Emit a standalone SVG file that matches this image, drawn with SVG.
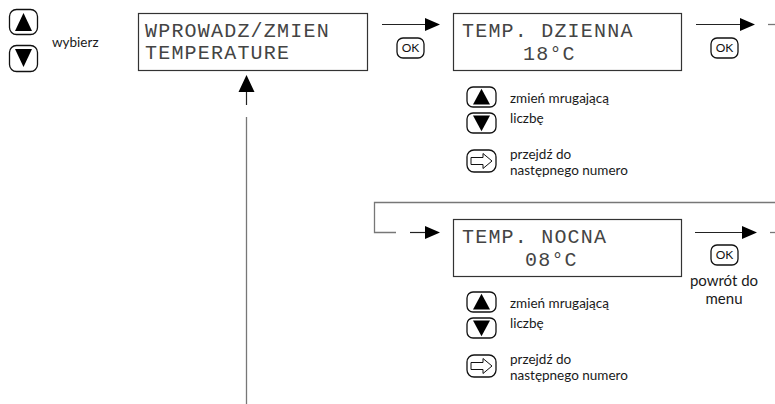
<svg xmlns="http://www.w3.org/2000/svg" xmlns:xlink="http://www.w3.org/1999/xlink" width="775" height="404" viewBox="0 0 775 404">
<style>
.box{fill:#fff;stroke:#333;stroke-width:1.2}
.lcd{font-family:"Liberation Mono","Courier New",monospace;font-size:20px;letter-spacing:1.2px;fill:#444}
.lbl{font-family:Lato,"Open Sans",sans-serif;font-size:13.5px;fill:#1a1a1a}
.btn{fill:#fff;stroke:#111;stroke-width:1.3}
.ok{font-family:Lato,"Open Sans",sans-serif;font-size:12px;fill:#111;text-anchor:middle}
.ln{stroke:#222;stroke-width:1.2;fill:none}
.gl{stroke:#777;stroke-width:1.3;fill:none}
.hd{fill:#000}
</style>
<defs>
<g id="bUp"><rect class="btn" x="0" y="0" width="29" height="20" rx="6"/><polygon points="14.5,1.8 23,17.5 6,17.5" fill="#000"/></g>
<g id="bDown"><rect class="btn" x="0" y="0" width="29" height="20" rx="6"/><polygon points="6,2.5 23,2.5 14.5,18.2" fill="#000"/></g>
<g id="bRight"><rect class="btn" x="0" y="0" width="29" height="22" rx="7"/><path d="M4,7.5H16V3.5L25,11L16,18.5V14.5H4Z" fill="#fff" stroke="#111" stroke-width="1"/></g>
<g id="bOk"><rect class="btn" x="0" y="0" width="27" height="20" rx="6"/><text class="ok" x="13.5" y="14.3">OK</text></g>
</defs>

<g id="connectors">
<line class="ln" x1="382" y1="24.5" x2="426" y2="24.5"/><polygon class="hd" points="425,18 440,24.5 425,31"/>
<line class="ln" x1="696" y1="24.5" x2="741" y2="24.5"/><polygon class="hd" points="740,18 755,24.5 740,31"/>
<line class="gl" x1="768" y1="24.5" x2="775" y2="24.5"/>
<polyline class="gl" points="775,202.5 374.5,202.5 374.5,232.5 396,232.5"/>
<line class="ln" x1="410" y1="232.5" x2="426" y2="232.5"/><polygon class="hd" points="425,226 440,232.5 425,239"/>
<line class="ln" x1="695" y1="232.5" x2="743" y2="232.5"/><polygon class="hd" points="742,226 757,232.5 742,239"/>
<line class="gl" x1="770" y1="232.5" x2="775" y2="232.5"/>
<line class="gl" x1="246.5" y1="404" x2="246.5" y2="117"/>
<line class="ln" x1="246.5" y1="105" x2="246.5" y2="91"/><polygon class="hd" points="246.5,75 238.5,92 254.5,92"/>
</g>

<g id="select-keys">
<rect class="btn" x="9.5" y="9.5" width="28" height="25" rx="7"/><polygon points="23.5,13 32,31 15,31" fill="#000"/>
<rect class="btn" x="9.5" y="45.5" width="28" height="26" rx="7"/><polygon points="15,49 32,49 23.5,67" fill="#000"/>
<text class="lbl" x="52" y="47">wybierz</text>
</g>

<g id="menu">
<rect class="box" x="138.5" y="13.5" width="229" height="57"/>
<text class="lcd" x="145" y="37">WPROWADZ/ZMIEN</text>
<text class="lcd" x="145" y="59">TEMPERATURE</text>
</g>

<g id="ok1"><use xlink:href="#bOk" x="397" y="38"/></g>

<g id="temp-dzienna">
<rect class="box" x="453.5" y="13.5" width="228" height="57"/>
<text class="lcd" x="462" y="37">TEMP. DZIENNA</text>
<text class="lcd" x="523" y="60">18°C</text>
</g>

<g id="ok2"><use xlink:href="#bOk" x="711" y="38"/></g>

<g id="keys-dzienna">
<use xlink:href="#bUp" x="467" y="87"/>
<use xlink:href="#bDown" x="467" y="113"/>
<use xlink:href="#bRight" x="467" y="150"/>
<text class="lbl" x="510" y="103">zmień mrugającą</text>
<text class="lbl" x="510" y="123">liczbę</text>
<text class="lbl" x="510" y="159">przejdź do</text>
<text class="lbl" x="510" y="175">następnego numero</text>
</g>

<g id="temp-nocna">
<rect class="box" x="453.5" y="219.5" width="228" height="57"/>
<text class="lcd" x="462" y="243">TEMP. NOCNA</text>
<text class="lcd" x="525" y="266">08°C</text>
</g>

<g id="ok3">
<use xlink:href="#bOk" x="711" y="245"/>
<text class="lbl" x="724" y="286" text-anchor="middle" style="font-size:15px">powrót do</text>
<text class="lbl" x="724" y="304" text-anchor="middle" style="font-size:15px">menu</text>
</g>

<g id="keys-nocna">
<use xlink:href="#bUp" x="467" y="292"/>
<use xlink:href="#bDown" x="467" y="318"/>
<use xlink:href="#bRight" x="467" y="355"/>
<text class="lbl" x="510" y="308">zmień mrugającą</text>
<text class="lbl" x="510" y="328">liczbę</text>
<text class="lbl" x="510" y="364">przejdź do</text>
<text class="lbl" x="510" y="380">następnego numero</text>
</g>
</svg>
